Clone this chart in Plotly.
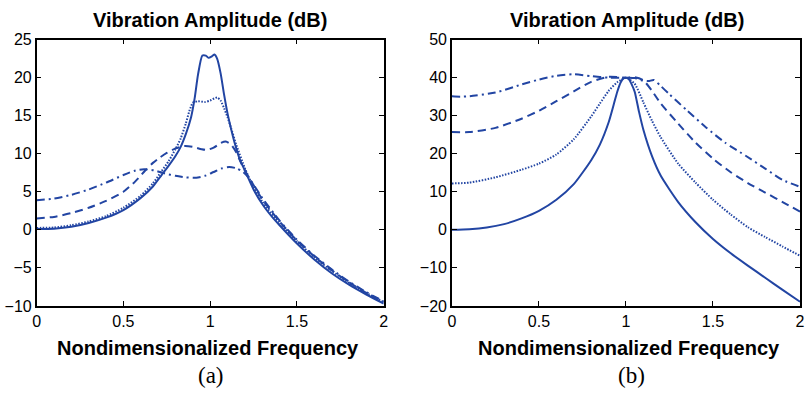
import plotly.graph_objects as go

# ---------------- Data: panel (a) ----------------
a_solid_x = [0, 0.1, 0.2, 0.3, 0.4, 0.5, 0.6, 0.67, 0.72, 0.76, 0.8, 0.83, 0.86, 0.89, 0.91, 0.93, 0.955, 0.975, 0.99, 1.01, 1.025, 1.04, 1.06, 1.08, 1.1, 1.12, 1.14, 1.17, 1.2, 1.25, 1.3, 1.35, 1.4, 1.5, 1.6, 1.7, 1.8, 1.9, 2.0]
a_solid_y = [0.1, 0.15, 0.4, 0.9, 1.6, 2.6, 4.2, 5.7, 7.2, 8.4, 9.7, 10.9, 12.6, 14.8, 17.2, 20.4, 22.9, 22.9, 22.6, 22.8, 23.05, 22.5, 20.6, 17.8, 15.3, 13.3, 11.5, 9.3, 7.8, 5.3, 3.4, 1.9, 0.6, -1.8, -3.9, -5.7, -7.2, -8.5, -9.7]

a_dot_x = [0, 0.1, 0.2, 0.3, 0.4, 0.5, 0.6, 0.67, 0.72, 0.76, 0.8, 0.83, 0.86, 0.88, 0.9, 0.93, 0.97, 1.0, 1.04, 1.06, 1.08, 1.1, 1.12, 1.15, 1.2, 1.25, 1.3, 1.4, 1.5, 1.6, 1.7, 1.8, 1.9, 2.0]
a_dot_y = [0.25, 0.3, 0.6, 1.1, 1.8, 2.9, 4.5, 6.1, 7.7, 9.0, 10.6, 12.0, 14.0, 15.6, 16.7, 16.9, 16.8, 17.0, 17.4, 17.0, 16.0, 14.8, 13.4, 11.2, 8.1, 5.6, 3.7, 0.9, -1.5, -3.6, -5.4, -7.0, -8.3, -9.5]

a_dash_x = [0, 0.1, 0.2, 0.3, 0.4, 0.5, 0.57, 0.63, 0.67, 0.71, 0.75, 0.8, 0.85, 0.9, 0.95, 0.98, 1.02, 1.06, 1.09, 1.12, 1.15, 1.18, 1.22, 1.26, 1.3, 1.4, 1.5, 1.6, 1.7, 1.8, 1.9, 2.0]
a_dash_y = [1.5, 1.7, 2.2, 2.9, 3.8, 5.0, 6.4, 7.9, 8.8, 9.5, 10.1, 10.7, 11.0, 10.9, 10.6, 10.5, 10.8, 11.4, 11.6, 11.2, 10.2, 8.7, 7.0, 5.5, 4.0, 1.1, -1.4, -3.5, -5.3, -6.9, -8.3, -9.5]

a_dd_x = [0, 0.1, 0.2, 0.3, 0.4, 0.5, 0.57, 0.62, 0.68, 0.74, 0.8, 0.86, 0.92, 0.97, 1.02, 1.07, 1.11, 1.15, 1.19, 1.22, 1.26, 1.3, 1.4, 1.5, 1.6, 1.7, 1.8, 1.9, 2.0]
a_dd_y = [3.9, 4.1, 4.6, 5.3, 6.2, 7.2, 7.8, 7.95, 7.8, 7.4, 7.1, 6.9, 6.85, 7.1, 7.6, 8.1, 8.25, 8.1, 7.6, 6.9, 5.6, 4.2, 1.2, -1.3, -3.4, -5.2, -6.8, -8.2, -9.4]

# ---------------- Data: panel (b) ----------------
b_solid_x = [0, 0.1, 0.2, 0.3, 0.4, 0.5, 0.6, 0.7, 0.8, 0.85, 0.9, 0.93, 0.95, 0.97, 0.985, 1.0, 1.015, 1.03, 1.05, 1.075, 1.1, 1.15, 1.2, 1.3, 1.4, 1.5, 1.6, 1.7, 1.8, 1.9, 2.0]
b_solid_y = [0.0, 0.15, 0.6, 1.5, 3.0, 5.0, 7.9, 12.0, 18.3, 22.4, 28.2, 33.0, 36.3, 38.8, 39.8, 40.0, 39.7, 38.5, 36.3, 31.0, 26.3, 19.3, 14.2, 7.3, 2.0, -2.4, -6.1, -9.4, -12.6, -15.8, -18.9]

b_dot_x = [0, 0.1, 0.25, 0.4, 0.5, 0.6, 0.7, 0.8, 0.85, 0.9, 0.95, 1.0, 1.05, 1.1, 1.15, 1.2, 1.3, 1.4, 1.5, 1.6, 1.7, 1.8, 1.9, 2.0]
b_dot_y = [12.2, 12.4, 13.8, 15.8, 17.4, 19.8, 23.8, 29.8, 33.2, 36.5, 38.8, 40.0, 38.4, 33.5, 28.6, 24.3, 17.4, 12.4, 7.9, 4.1, 0.7, -1.9, -4.4, -6.8]

b_dash_x = [0, 0.1, 0.25, 0.4, 0.5, 0.6, 0.7, 0.8, 0.9, 1.0, 1.05, 1.1, 1.15, 1.2, 1.3, 1.4, 1.5, 1.6, 1.7, 1.8, 1.9, 2.0]
b_dash_y = [25.7, 25.7, 26.8, 29.2, 31.3, 33.8, 36.4, 38.9, 40.2, 40.0, 40.1, 39.3, 36.5, 33.2, 27.9, 22.9, 18.7, 15.2, 12.3, 9.8, 7.3, 4.8]

b_dd_x = [0, 0.05, 0.1, 0.25, 0.4, 0.5, 0.6, 0.7, 0.8, 0.9, 1.0, 1.05, 1.1, 1.13, 1.16, 1.2, 1.25, 1.35, 1.46, 1.57, 1.69, 1.8, 1.9, 2.0]
b_dd_y = [35.1, 35.0, 35.1, 36.1, 38.2, 39.5, 40.5, 40.9, 40.4, 40.0, 40.0, 39.9, 39.2, 39.1, 39.4, 37.8, 35.6, 31.4, 26.9, 22.9, 19.4, 16.1, 13.1, 11.3]

x_ticks = [0, 0.5, 1, 1.5, 2]
x_tick_labels = ["0", "0.5", "1", "1.5", "2"]
a_y_ticks = [-10, -5, 0, 5, 10, 15, 20, 25]
b_y_ticks = [-20, -10, 0, 10, 20, 30, 40, 50]

title_text = "Vibration Amplitude (dB)"
xlabel_text = "Nondimensionalized Frequency"
panel_labels = ["(a)", "(b)"]

# ---------------- Styling ----------------
BLUE = "#2245a3"
LW = 2
styles = ["solid", "1.5px,1.5px", "8px,5px", "8px,4px,2px,4px"]
SANS = "Liberation Sans, Arial, sans-serif"
SERIF = "Liberation Serif, Times New Roman, serif"

fig = go.Figure()

a_series = [(a_solid_x, a_solid_y), (a_dot_x, a_dot_y), (a_dash_x, a_dash_y), (a_dd_x, a_dd_y)]
b_series = [(b_solid_x, b_solid_y), (b_dot_x, b_dot_y), (b_dash_x, b_dash_y), (b_dd_x, b_dd_y)]

for series, xa, ya in [(a_series, "x", "y"), (b_series, "x2", "y2")]:
    for (xs, ys), dash in zip(series, styles):
        fig.add_trace(go.Scatter(x=xs, y=ys, mode="lines", xaxis=xa, yaxis=ya,
                                 line=dict(color=BLUE, width=LW, dash=dash, shape="spline", smoothing=0.6),
                                 showlegend=False, hoverinfo="skip"))

W, H = 806, 404
ydom = [1 - 311 / H, 1 - 33 / H]
axis_common = dict(showgrid=False, zeroline=False, showline=True, linecolor="black", linewidth=1.5,
                   mirror="ticks", ticks="inside", ticklen=5, tickcolor="black", tickwidth=1,
                   tickfont=dict(family=SANS, size=16, color="black"))

fig.update_layout(
    width=W, height=H,
    margin=dict(l=0, r=0, t=0, b=0),
    paper_bgcolor="white", plot_bgcolor="white",
    xaxis=dict(domain=[33 / W, 384 / W], range=[0, 2], anchor="y",
               tickvals=x_ticks, ticktext=x_tick_labels, **axis_common),
    yaxis=dict(domain=ydom, range=[-10, 25], anchor="x", tickvals=a_y_ticks, **axis_common),
    xaxis2=dict(domain=[453 / W, 805 / W], range=[0, 2], anchor="y2",
                tickvals=x_ticks, ticktext=x_tick_labels, **axis_common),
    yaxis2=dict(domain=ydom, range=[-20, 50], anchor="x2", tickvals=b_y_ticks, **axis_common),
)

title_cx = [208 / W, 630 / W]
xlabel_cx = [206 / W, 632 / W]
panel_cx = [209 / W, 635 / W]
for i in range(2):
    fig.add_annotation(text="<b>" + title_text + "</b>", x=title_cx[i], y=1 - 13 / H, xref="paper", yref="paper",
                       showarrow=False, xanchor="center", yanchor="middle",
                       font=dict(family=SANS, size=20, color="black"))
    fig.add_annotation(text="<b>" + xlabel_text + "</b>", x=xlabel_cx[i], y=1 - 355 / H,
                       xref="paper", yref="paper", showarrow=False, xanchor="center", yanchor="middle",
                       font=dict(family=SANS, size=20, color="black"))
    fig.add_annotation(text=panel_labels[i], x=panel_cx[i], y=1 - 384 / H,
                       xref="paper", yref="paper", showarrow=False, xanchor="center", yanchor="middle",
                       font=dict(family=SERIF, size=23, color="black"))

fig.write_html("out.html")
